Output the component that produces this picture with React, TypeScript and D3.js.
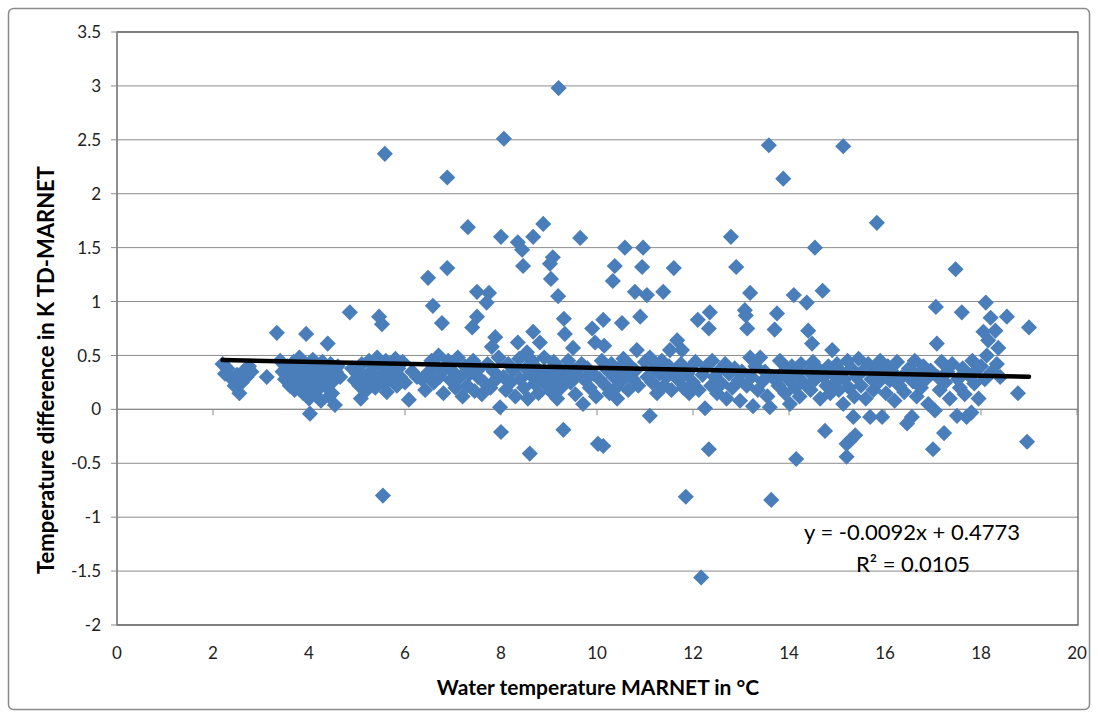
import React, { useEffect } from 'react';
import * as d3 from 'd3';

// water temperature MARNET (°C) vs temperature difference (K)
const band2to5: [number, number][] = [
  [2.2, 0.42], [2.25, 0.33], [2.3, 0.38], [2.4, 0.28], [2.45, 0.22], [2.5, 0.32], [2.55, 0.15],
  [2.6, 0.25], [2.65, 0.36], [2.7, 0.3], [2.75, 0.4], [2.8, 0.35],
  [3.12, 0.3], [3.33, 0.71], [3.4, 0.45], [3.45, 0.35], [3.5, 0.28], [3.55, 0.4], [3.6, 0.22],
  [3.62, 0.32], [3.68, 0.44], [3.7, 0.18], [3.72, 0.27], [3.78, 0.37], [3.8, 0.48], [3.82, 0.24],
  [3.85, 0.31], [3.88, 0.15], [3.9, 0.42], [3.92, 0.2], [3.94, 0.7], [3.95, 0.35], [3.98, 0.28],
  [4.0, 0.1], [4.02, -0.04], [4.04, 0.38], [4.06, 0.22], [4.08, 0.46], [4.1, 0.3], [4.12, 0.14],
  [4.15, 0.25], [4.18, 0.4], [4.2, 0.19], [4.22, 0.33], [4.25, 0.08], [4.28, 0.44], [4.3, 0.27],
  [4.33, 0.36], [4.36, 0.21], [4.39, 0.61], [4.4, 0.31], [4.42, 0.12], [4.45, 0.42], [4.48, 0.15],
  [4.5, 0.26], [4.54, 0.04], [4.56, 0.35], [4.6, 0.4], [4.65, 0.3],
];

const band5to8: [number, number][] = [
  [4.85, 0.9], [4.9, 0.38], [4.95, 0.27], [5.0, 0.33], [5.05, 0.22], [5.08, 0.1], [5.1, 0.42],
  [5.15, 0.3], [5.2, 0.18], [5.25, 0.45], [5.28, 0.35], [5.3, 0.26], [5.35, 0.4], [5.38, 0.2],
  [5.42, 0.48], [5.46, 0.86], [5.48, 0.3], [5.52, 0.79], [5.54, -0.8], [5.55, 0.38], [5.58, 2.37],
  [5.58, 0.24], [5.6, 0.45], [5.62, 0.16], [5.65, 0.33], [5.7, 0.42], [5.72, 0.27], [5.75, 0.36],
  [5.8, 0.47], [5.83, 0.22], [5.86, 0.38], [5.9, 0.3], [5.95, 0.44], [6.0, 0.25], [6.08, 0.09],
  [6.15, 0.35], [6.25, 0.3], [6.35, 0.28], [6.42, 0.18], [6.48, 1.22], [6.5, 0.35], [6.55, 0.45],
  [6.58, 0.96], [6.6, 0.25], [6.65, 0.4], [6.7, 0.5], [6.72, 0.3], [6.77, 0.8], [6.8, 0.15],
  [6.85, 0.38], [6.88, 1.31], [6.88, 2.15], [6.9, 0.45], [6.95, 0.27], [7.0, 0.35], [7.05, 0.2],
  [7.1, 0.48], [7.15, 0.3], [7.2, 0.12], [7.25, 0.4], [7.3, 0.22], [7.31, 1.69], [7.35, 0.33],
  [7.4, 0.76], [7.42, 0.45], [7.45, 0.17], [7.5, 0.86], [7.5, 1.09], [7.52, 0.3], [7.55, 0.38],
  [7.6, 0.14], [7.65, 0.25], [7.7, 0.99], [7.72, 0.42], [7.75, 1.08], [7.78, 0.2], [7.81, 0.58],
  [7.85, 0.35], [7.88, 0.67], [7.9, 0.28], [7.95, 0.48], [7.98, 0.02], [8.0, -0.21], [8.0, 1.6],
];

const band8to10: [number, number][] = [
  [8.05, 0.3], [8.06, 2.51], [8.1, 0.18], [8.15, 0.42], [8.2, 0.25], [8.25, 0.36], [8.3, 0.12],
  [8.35, 0.62], [8.35, 1.55], [8.38, 0.47], [8.4, 0.28], [8.44, 1.48], [8.46, 1.33], [8.48, 0.2],
  [8.52, 0.38], [8.54, 0.53], [8.56, 0.1], [8.6, -0.41], [8.62, 0.32], [8.65, 0.45], [8.67, 0.72],
  [8.67, 1.6], [8.7, 0.24], [8.75, 0.38], [8.78, 0.15], [8.81, 0.62], [8.85, 0.3], [8.88, 1.72],
  [8.9, 0.48], [8.95, 0.22], [9.0, 0.35], [9.02, 1.35], [9.04, 1.21], [9.05, 0.16], [9.08, 1.41],
  [9.1, 0.44], [9.12, 0.28], [9.17, 0.1], [9.19, 1.05], [9.2, 2.98], [9.22, 0.38], [9.25, 0.2],
  [9.3, -0.19], [9.31, 0.84], [9.33, 0.7], [9.35, 0.3], [9.4, 0.45], [9.45, 0.25], [9.5, 0.57],
  [9.52, 0.36], [9.55, 0.14], [9.6, 0.32], [9.65, 1.59], [9.68, 0.42], [9.71, 0.05], [9.75, 0.27],
  [9.8, 0.38], [9.85, 0.2], [9.9, 0.75], [9.92, 0.33], [9.96, 0.62], [9.98, 0.12],
];

const band10to12: [number, number][] = [
  [10.02, -0.32], [10.05, 0.28], [10.1, 0.45], [10.13, 0.83], [10.13, -0.34], [10.15, 0.59],
  [10.18, 0.22], [10.22, 0.36], [10.26, 0.15], [10.3, 0.42], [10.33, 1.19], [10.35, 0.3],
  [10.37, 1.33], [10.4, 0.2], [10.42, 0.1], [10.45, 0.38], [10.5, 0.26], [10.52, 0.8], [10.55, 0.47],
  [10.58, 1.5], [10.6, 0.33], [10.65, 0.18], [10.7, 0.4], [10.75, 0.28], [10.79, 1.09], [10.8, 0.36],
  [10.83, 0.55], [10.86, 0.22], [10.9, 0.86], [10.94, 1.32], [10.96, 1.5], [11.0, 0.44], [11.04, 1.06],
  [11.05, 0.3], [11.1, -0.06], [11.1, 0.48], [11.15, 0.25], [11.2, 0.38], [11.25, 0.15], [11.3, 0.33],
  [11.35, 0.45], [11.38, 1.09], [11.4, 0.22], [11.45, 0.3], [11.5, 0.4], [11.52, 0.55], [11.55, 0.18],
  [11.6, 1.31], [11.62, 0.35], [11.67, 0.64], [11.7, 0.27], [11.75, 0.42], [11.77, 0.55], [11.8, 0.2],
  [11.85, -0.81], [11.88, 0.33], [11.92, 0.15], [11.96, 0.38],
];

const band12to14: [number, number][] = [
  [12.0, 0.25], [12.05, 0.44], [12.1, 0.83], [12.12, 0.18], [12.17, -1.56], [12.2, 0.32],
  [12.25, 0.01], [12.28, 0.4], [12.33, 0.75], [12.33, -0.37], [12.35, 0.9], [12.38, 0.22],
  [12.4, 0.45], [12.45, 0.3], [12.5, 0.15], [12.55, 0.36], [12.6, 0.24], [12.67, 0.42], [12.7, 0.1],
  [12.75, 0.33], [12.79, 1.6], [12.82, 0.2], [12.87, 0.38], [12.9, 1.32], [12.95, 0.27], [12.98, 0.08],
  [13.02, 0.35], [13.08, 0.92], [13.1, 0.87], [13.12, 0.22], [13.13, 0.75], [13.19, 1.08],
  [13.19, 0.48], [13.22, 0.3], [13.25, 0.03], [13.3, 0.4], [13.35, 0.18], [13.4, 0.48], [13.45, 0.26],
  [13.5, 0.35], [13.55, 0.12], [13.58, 2.45], [13.6, 0.02], [13.63, -0.84], [13.65, 0.3], [13.7, 0.74],
  [13.75, 0.89], [13.78, 0.22], [13.81, 0.45], [13.85, 0.33], [13.88, 2.14], [13.92, 0.15], [13.96, 0.38],
];

const band14to16: [number, number][] = [
  [14.0, 0.27], [14.02, 0.05], [14.06, 0.4], [14.1, 1.06], [14.13, 0.2], [14.15, -0.46], [14.18, 0.33],
  [14.22, 0.12], [14.25, 0.42], [14.3, 0.25], [14.37, 0.99], [14.4, 0.73], [14.42, 0.35], [14.45, 0.18],
  [14.48, 0.61], [14.5, 0.44], [14.54, 1.5], [14.55, 0.28], [14.6, 0.38], [14.65, 0.1], [14.7, 1.1],
  [14.72, 0.3], [14.75, -0.2], [14.78, 0.22], [14.82, 0.4], [14.86, 0.15], [14.9, 0.55], [14.92, 0.33],
  [14.96, 0.25], [15.0, 0.42], [15.04, 0.18], [15.08, 0.35], [15.13, 2.44], [15.13, 0.05], [15.15, 0.28],
  [15.2, -0.32], [15.2, -0.44], [15.22, 0.45], [15.25, 0.2], [15.27, -0.29], [15.3, 0.38], [15.34, -0.07],
  [15.36, 0.12], [15.38, -0.24], [15.4, 0.3], [15.45, 0.47], [15.5, 0.22], [15.55, 0.36], [15.6, 0.1],
  [15.65, 0.42], [15.69, -0.07], [15.72, 0.28], [15.76, 0.18], [15.8, 0.38], [15.83, 1.73], [15.86, 0.25],
  [15.9, 0.45], [15.94, -0.07], [15.97, 0.32],
];

const band16to19: [number, number][] = [
  [16.02, 0.15], [16.06, 0.4], [16.1, 0.27], [16.15, 0.35], [16.2, 0.08], [16.25, 0.44], [16.3, 0.22],
  [16.35, 0.3], [16.4, 0.16], [16.46, -0.13], [16.5, 0.38], [16.56, -0.07], [16.58, 0.26], [16.62, 0.45],
  [16.66, 0.12], [16.7, 0.33], [16.75, 0.2], [16.8, 0.4], [16.85, 0.28], [16.9, 0.05], [16.95, 0.36],
  [17.0, -0.37], [17.04, -0.01], [17.06, 0.95], [17.08, 0.61], [17.1, 0.3], [17.14, 0.18], [17.18, 0.44],
  [17.23, -0.22], [17.25, 0.25], [17.3, 0.35], [17.35, 0.1], [17.4, 0.42], [17.47, 1.3], [17.5, -0.06],
  [17.52, 0.28], [17.56, 0.2], [17.6, 0.9], [17.62, 0.38], [17.66, 0.14], [17.7, -0.07], [17.74, 0.32],
  [17.8, -0.03], [17.82, 0.45], [17.86, 0.24], [17.9, 0.36], [17.95, 0.1], [18.0, 0.4], [18.05, 0.72],
  [18.08, 0.28], [18.1, 0.99], [18.12, 0.5], [18.15, 0.64], [18.2, 0.85], [18.23, 0.35], [18.3, 0.73],
  [18.33, 0.42], [18.36, 0.57], [18.4, 0.3], [18.54, 0.86], [18.77, 0.15], [18.96, -0.3], [19.0, 0.76],
];

const points = [...band2to5, ...band5to8, ...band8to10, ...band10to12, ...band12to14, ...band14to16, ...band16to19];

// linear trendline as printed on the chart
const slope = -0.0092;
const intercept = 0.4773;
const rSquared = '0.0105';

const xTicks = [0, 2, 4, 6, 8, 10, 12, 14, 16, 18, 20];
const yTicks = [-2, -1.5, -1, -0.5, 0, 0.5, 1, 1.5, 2, 2.5, 3, 3.5];

const W = 1098;
const H = 718;
const plot = { left: 117, right: 1078, top: 32, bottom: 625 };
const font = 'Lato, "Noto Sans", sans-serif';

export default function App() {
  useEffect(() => {
    document.body.style.margin = '0';
  }, []);

  const x = d3.scaleLinear().domain([0, 20]).range([plot.left, plot.right - 1]);
  const y = d3.scaleLinear().domain([-2, 3.5]).range([plot.bottom, plot.top]);

  const diamond = d3.symbol(d3.symbolSquare, 130)()!;
  const xExtent = d3.extent(points, d => d[0]) as [number, number];
  const trend = d3.line<number>()
    .x(d => x(d))
    .y(d => y(slope * d + intercept))(xExtent)!;

  return (
    <svg width={W} height={H} style={{ display: 'block', background: '#fff' }}>
      <rect x={8.5} y={8.5} width={1081} height={701} rx={5} fill="#fff" stroke="#8a8a8a" strokeWidth={1.5} />

      {yTicks.map(t => (
        <line key={'g' + t} x1={plot.left} x2={plot.right} y1={y(t)} y2={y(t)}
          stroke="#8c8c8c" strokeWidth={1} />
      ))}
      <rect x={plot.left} y={plot.top} width={plot.right - plot.left} height={plot.bottom - plot.top}
        fill="none" stroke="#505050" strokeWidth={1.2} />
      <line x1={plot.left} x2={plot.left} y1={plot.top} y2={plot.bottom} stroke="#8c8c8c" strokeWidth={1.2} />
      <line x1={plot.left} x2={plot.right} y1={y(0)} y2={y(0)} stroke="#8c8c8c" strokeWidth={1.2} />

      {yTicks.map(t => (
        <g key={'yt' + t}>
          <line x1={plot.left - 6} x2={plot.left} y1={y(t)} y2={y(t)} stroke="#8c8c8c" />
          <text x={101} y={y(t)} dy="0.36em" textAnchor="end" fontFamily={font} fontSize={17} fill="#222">{t}</text>
        </g>
      ))}
      {xTicks.map(t => (
        <g key={'xt' + t}>
          <line x1={x(t)} x2={x(t)} y1={y(0)} y2={y(0) + 6} stroke="#8c8c8c" />
          <text x={x(t)} y={659} textAnchor="middle" fontFamily={font} fontSize={17} fill="#222">{t}</text>
        </g>
      ))}

      {points.map((p, i) => (
        <path key={i} d={diamond} transform={`translate(${x(p[0])},${y(p[1])}) rotate(45)`} fill="#4a7ebb" />
      ))}

      <path d={trend} fill="none" stroke="#000" strokeWidth={4.5} strokeLinecap="round" />

      <text x={912} y={540} textAnchor="middle" fontFamily={font} fontSize={22} fill="#000">
        {`y = ${slope}x + ${intercept}`}
      </text>
      <text x={913} y={572} textAnchor="middle" fontFamily={font} fontSize={22} fill="#000">
        {`R² = ${rSquared}`}
      </text>

      <text x={598} y={695} textAnchor="middle" fontFamily={font} fontSize={21} fontWeight="bold" fill="#000">
        Water temperature MARNET in °C
      </text>
      <text transform={`translate(54,370) rotate(-90)`} textAnchor="middle"
        fontFamily={font} fontSize={22} fontWeight="bold" fill="#000">
        Temperature difference in K TD-MARNET
      </text>
    </svg>
  );
}
